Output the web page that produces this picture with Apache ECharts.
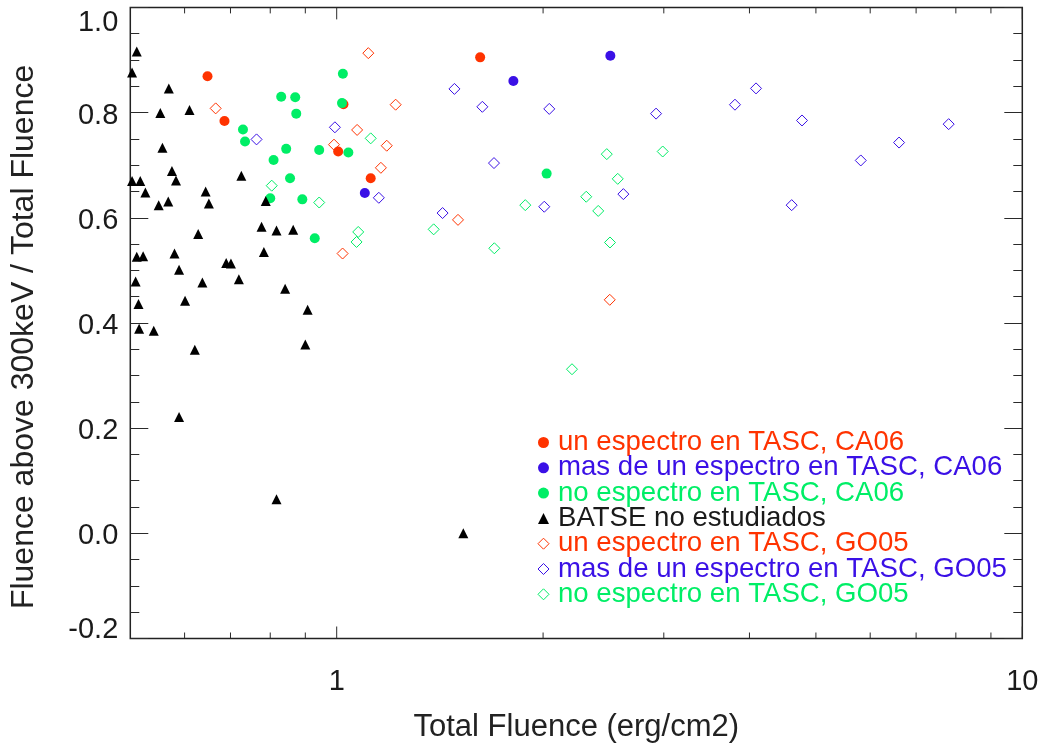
<!DOCTYPE html>
<html>
<head>
<meta charset="utf-8">
<title>Fluence above 300keV / Total Fluence</title>
<script src="https://cdn.jsdelivr.net/npm/echarts@6/dist/echarts.min.js"></script>
<style>
  html, body { margin: 0; padding: 0; background: #fff; }
  #chart { width: 1046px; height: 746px; }
</style>
</head>
<body>
<div id="chart"></div>
<script>
// [total fluence (erg/cm2), fraction of fluence above 300 keV]
const redCA06 = [[0.648, 0.869], [0.686, 0.784], [1.005, 0.726], [1.121, 0.675], [1.619, 0.905], [1.023, 0.816]];
const blueCA06 = [[1.099, 0.647], [1.810, 0.860], [2.507, 0.908]];
const greenCA06 = [
  [0.730, 0.768], [0.735, 0.745], [0.830, 0.830], [0.870, 0.829], [0.873, 0.798], [0.844, 0.731],
  [0.809, 0.710], [0.855, 0.675], [0.943, 0.729], [1.021, 0.874], [1.018, 0.818], [1.040, 0.724],
  [0.800, 0.637], [0.891, 0.635], [0.929, 0.561], [2.024, 0.684]
];
const batse = [
  [0.511, 0.916], [0.503, 0.876], [0.569, 0.846], [0.553, 0.799], [0.610, 0.805], [0.557, 0.733],
  [0.503, 0.670], [0.517, 0.670], [0.526, 0.648], [0.550, 0.624], [0.568, 0.631], [0.575, 0.689],
  [0.583, 0.671], [0.644, 0.650], [0.651, 0.627], [0.726, 0.680], [0.788, 0.632], [0.628, 0.569],
  [0.777, 0.583], [0.817, 0.576], [0.864, 0.577], [0.511, 0.526], [0.522, 0.527], [0.580, 0.532],
  [0.783, 0.535], [0.589, 0.501], [0.690, 0.514], [0.701, 0.513], [0.509, 0.479], [0.637, 0.477],
  [0.720, 0.483], [0.841, 0.465], [0.514, 0.436], [0.601, 0.442], [0.907, 0.425], [0.515, 0.389],
  [0.541, 0.385], [0.621, 0.349], [0.900, 0.359], [0.589, 0.221], [0.817, 0.065], [1.530, 0.000]
];
const redGO05 = [
  [0.666, 0.808], [0.991, 0.739], [1.112, 0.913], [1.219, 0.815], [1.071, 0.767],
  [1.183, 0.737], [1.160, 0.695], [1.503, 0.596], [1.020, 0.532], [2.502, 0.444]
];
const blueGO05 = [
  [0.764, 0.749], [0.994, 0.772], [1.485, 0.845], [1.631, 0.811], [2.042, 0.807], [2.923, 0.798],
  [1.696, 0.704], [1.152, 0.638], [1.427, 0.609], [2.008, 0.621], [2.619, 0.645], [3.810, 0.815],
  [4.089, 0.846], [4.772, 0.785], [5.813, 0.709], [6.611, 0.743], [7.809, 0.778], [4.609, 0.624]
];
const greenGO05 = [
  [0.804, 0.661], [0.943, 0.629], [1.121, 0.751], [1.075, 0.573], [1.069, 0.554], [1.385, 0.578],
  [1.698, 0.542], [1.884, 0.624], [2.312, 0.640], [2.407, 0.613], [2.477, 0.721], [2.570, 0.674],
  [2.504, 0.553], [2.989, 0.726], [2.204, 0.312]
];

// axis extents and tick values
const xRange = [0.5, 10];
const yRange = [-0.2, 1.0];
const xMajorTicks = [1, 10];
const xMinorTicks = [0.6, 0.7, 0.8, 0.9, 2, 3, 4, 5, 6, 7, 8, 9];

const FONT = "'Liberation Sans', Arial, Helvetica, sans-serif";
const RED = '#ff3300';
const BLUE = '#3a10e6';
const GREEN = '#00ee66';
const INK = '#1a1a1a';
const HOLLOW = 'rgba(0,0,0,0)';

const names = [
  'un espectro en TASC, CA06',
  'mas de un espectro en TASC, CA06',
  'no espectro en TASC, CA06',
  'BATSE no estudiados',
  'un espectro en TASC, GO05',
  'mas de un espectro en TASC, GO05',
  'no espectro en TASC, GO05'
];

function filled(name, data, color, symbol) {
  return {
    type: 'scatter', name, data, symbol, symbolSize: 10,
    itemStyle: { color, opacity: 1 },
    emphasis: { disabled: true }
  };
}
function hollow(name, data, color) {
  return {
    type: 'scatter', name, data, symbol: 'diamond', symbolSize: 11,
    itemStyle: { color: HOLLOW, borderColor: color, borderWidth: 1, opacity: 1 },
    emphasis: { disabled: true }
  };
}

// tick marks on the bottom and top frame of the log axis
function xTicks(values, len) {
  return {
    type: 'custom', silent: true, z: 5, clip: false,
    data: values.map(v => [v, yRange[0]]),
    renderItem(params, api) {
      const v = api.value(0);
      const b = api.coord([v, yRange[0]]);
      const t = api.coord([v, yRange[1]]);
      const st = { stroke: '#2a2a2a', lineWidth: 1 };
      return {
        type: 'group',
        children: [
          { type: 'line', shape: { x1: b[0], y1: b[1], x2: b[0], y2: b[1] - len }, style: st },
          { type: 'line', shape: { x1: t[0], y1: t[1], x2: t[0], y2: t[1] + len }, style: st }
        ]
      };
    }
  };
}

const yTickCommon = {
  type: 'value', min: yRange[0], max: yRange[1], interval: 0.2,
  axisLine: { show: false },
  splitLine: { show: false },
  axisTick: { show: true, inside: true, length: 18, lineStyle: { color: '#2a2a2a', width: 1 } },
  minorTick: { show: true, splitNumber: 4, length: 9, lineStyle: { color: '#2a2a2a', width: 1 } },
  minorSplitLine: { show: false }
};

// y tick labels: the end labels sit inside the frame
const yLabelText = { fontSize: 29, color: INK, fontFamily: FONT };
function yLabel(v) {
  const s = v.toFixed(1);
  if (Math.abs(v - yRange[1]) < 1e-9) return '{top|' + s + '}';
  if (Math.abs(v - yRange[0]) < 1e-9) return '{bot|' + s + '}';
  return '{mid|' + s + '}';
}

const chart = echarts.init(document.getElementById('chart'), null, { renderer: 'canvas' });
chart.setOption({
  animation: false,
  backgroundColor: '#fff',
  textStyle: { fontFamily: FONT },
  grid: {
    left: 130.3, right: 23.7, top: 7.4, bottom: 107.5,
    show: true, borderColor: '#222', borderWidth: 1.5, backgroundColor: 'transparent',
    containLabel: false, outerBoundsMode: 'none'
  },
  xAxis: {
    type: 'log', logBase: 10, min: xRange[0], max: xRange[1],
    axisLine: { show: false },
    axisTick: { show: false },
    minorTick: { show: false },
    splitLine: { show: false },
    axisLabel: {
      showMinLabel: false, margin: 29, fontSize: 29, color: INK, fontFamily: FONT,
      formatter: v => String(Math.round(v))
    },
    name: 'Total Fluence (erg/cm2)', nameLocation: 'middle', nameGap: 73,
    nameTextStyle: { fontSize: 31, color: '#222', fontFamily: FONT }
  },
  yAxis: [
    Object.assign({}, yTickCommon, {
      position: 'left',
      axisLabel: {
        show: true, margin: 12, fontSize: 29, color: INK, fontFamily: FONT,
        formatter: yLabel,
        rich: {
          top: Object.assign({ padding: [32, 0, 0, 0] }, yLabelText),
          mid: Object.assign({ padding: [6, 0, 0, 0] }, yLabelText),
          bot: Object.assign({ padding: [0, 0, 18, 0] }, yLabelText)
        }
      },
      name: 'Fluence above 300keV / Total Fluence', nameLocation: 'middle', nameRotate: 90, nameGap: 90,
      nameTextStyle: { fontSize: 32, color: '#222', fontFamily: FONT, padding: [0, 28, 0, 0] }
    }),
    Object.assign({}, yTickCommon, {
      position: 'right',
      axisLabel: { show: false }
    })
  ],
  legend: {
    orient: 'vertical', left: 537.5, top: 428.5, padding: 0, itemGap: -2.7,
    itemWidth: 11, itemHeight: 11, selectedMode: false,
    textStyle: { fontSize: 27.6, fontFamily: FONT, padding: [0, 0, 0, 4] },
    data: [
      { name: names[0], icon: 'circle', textStyle: { color: RED } },
      { name: names[1], icon: 'circle', textStyle: { color: BLUE } },
      { name: names[2], icon: 'circle', textStyle: { color: GREEN } },
      { name: names[3], icon: 'triangle', textStyle: { color: INK } },
      { name: names[4], icon: 'diamond', textStyle: { color: RED },
        itemStyle: { color: HOLLOW, borderColor: RED, borderWidth: 1 } },
      { name: names[5], icon: 'diamond', textStyle: { color: BLUE },
        itemStyle: { color: HOLLOW, borderColor: BLUE, borderWidth: 1 } },
      { name: names[6], icon: 'diamond', textStyle: { color: GREEN },
        itemStyle: { color: HOLLOW, borderColor: GREEN, borderWidth: 1 } }
    ]
  },
  series: [
    filled(names[0], redCA06, RED, 'circle'),
    filled(names[1], blueCA06, BLUE, 'circle'),
    filled(names[2], greenCA06, GREEN, 'circle'),
    filled(names[3], batse, '#000', 'triangle'),
    hollow(names[4], redGO05, RED),
    hollow(names[5], blueGO05, BLUE),
    hollow(names[6], greenGO05, GREEN),
    xTicks(xMajorTicks, 12),
    xTicks(xMinorTicks, 6)
  ]
});
</script>
</body>
</html>
